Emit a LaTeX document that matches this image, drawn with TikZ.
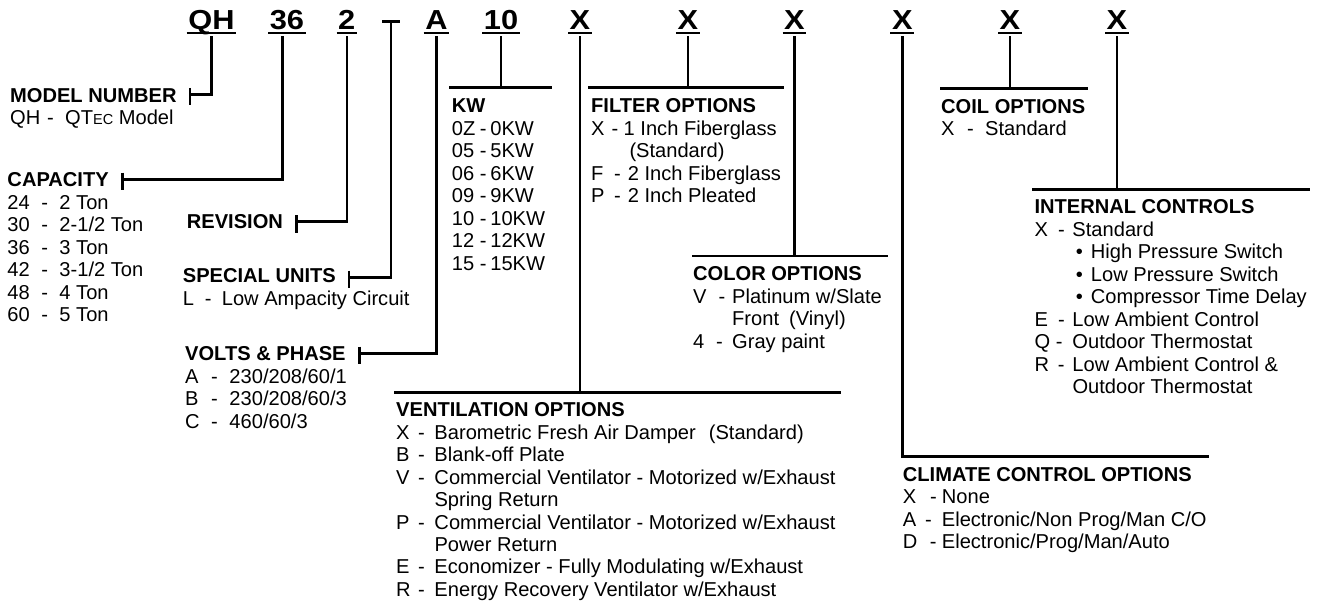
\documentclass[tikz,border=0pt]{standalone}
\usepackage{fontspec}
\setmainfont{Liberation Sans}
\newfontfamily\hdrfont[FakeStretch=1.12]{Liberation Sans}
\usetikzlibrary{calc}
\newcommand\orow[4]{\makebox[#1pt][l]{#3}\makebox[#2pt][l]{-}#4}
\newcommand\cont[2]{\hspace*{#1pt}#2}
\tikzset{
 hdr/.style={font=\hdrfont\bfseries\fontsize{27.5}{27.5}\selectfont, inner sep=0pt, text depth=6.7pt, anchor=base},
 blk/.style={font=\fontsize{20.1}{22.5}\selectfont, inner sep=0pt, anchor=base west},
 conn/.style={line width=2.6pt},
 uline/.style={line width=2pt},
 dashbar/.style={fill=black, inner sep=0pt, minimum width=18pt, minimum height=2.6pt, draw=none}
}
\begin{document}
\begin{tikzpicture}[x=1pt,y=-1pt]
\fill[white] (0,0) rectangle (1318,604);
\useasboundingbox (0,0) rectangle (1318,604);

% ---------- header characters ----------
\node[hdr] (hQH) at (211.5,29.3) {QH};
\node[hdr] (h36) at (287,29.3) {36};
\node[hdr] (h2) at (346.8,29.3) {2};
\node[dashbar] (hDash) at (391,21.7) {};
\node[hdr] (hA) at (436.5,29.3) {A};
\node[hdr] (h10) at (501,29.3) {10};
\node[hdr] (hX1) at (580,29.3) {X};
\node[hdr] (hX2) at (687.8,29.3) {X};
\node[hdr] (hX3) at (794.5,29.3) {X};
\node[hdr] (hX4) at (902.3,29.3) {X};
\node[hdr] (hX5) at (1010,29.3) {X};
\node[hdr] (hX6) at (1117,29.3) {X};
\foreach \n in {hQH,h36,h2,hA,h10,hX1,hX2,hX3,hX4,hX5,hX6}
  \draw[uline] ($(\n.base west)+(-1.5,4)$) -- ($(\n.base east)+(1.5,4)$);

% ---------- text blocks ----------
\node[blk] (model) at (10,102.5) {\begin{tabular}[t]{@{}l@{}}\textbf{MODEL NUMBER}\\
 \orow{37}{18}{QH}{QT{\fontsize{14.5}{14.5}\selectfont EC} Model}\end{tabular}};

\node[blk] (cap) at (7.3,187) {\begin{tabular}[t]{@{}l@{}}\textbf{CAPACITY}\\
 \orow{34}{18}{24}{2 Ton}\\
 \orow{34}{18}{30}{2-1/2 Ton}\\
 \orow{34}{18}{36}{3 Ton}\\
 \orow{34}{18}{42}{3-1/2 Ton}\\
 \orow{34}{18}{48}{4 Ton}\\
 \orow{34}{18}{60}{5 Ton}\end{tabular}};

\node[blk] (rev) at (186.7,228.3) {\textbf{REVISION}};

\node[blk] (spec) at (182.7,283) {\begin{tabular}[t]{@{}l@{}}\textbf{SPECIAL UNITS}\\
 \orow{22}{17}{L}{Low Ampacity Circuit}\end{tabular}};

\node[blk] (volt) at (185,360.5) {\begin{tabular}[t]{@{}l@{}}\textbf{VOLTS \& PHASE}\\
 \orow{26}{18.3}{A}{230/208/60/1}\\
 \orow{26}{18.3}{B}{230/208/60/3}\\
 \orow{26}{18.3}{C}{460/60/3}\end{tabular}};

\node[blk] (kw) at (451.7,113) {\begin{tabular}[t]{@{}l@{}}\textbf{KW}\\
 \orow{28}{10.5}{0Z}{0KW}\\
 \orow{28}{10.5}{05}{5KW}\\
 \orow{28}{10.5}{06}{6KW}\\
 \orow{28}{10.5}{09}{9KW}\\
 \orow{28}{10.5}{10}{10KW}\\
 \orow{28}{10.5}{12}{12KW}\\
 \orow{28}{10.5}{15}{15KW}\end{tabular}};

\node[blk] (filt) at (591,113) {\begin{tabular}[t]{@{}l@{}}\textbf{FILTER OPTIONS}\\
 \orow{20.5}{12}{X}{1 Inch Fiberglass}\\
 \cont{38.3}{(Standard)}\\
 \orow{23}{13.7}{F}{2 Inch Fiberglass}\\
 \orow{23}{13.7}{P}{2 Inch Pleated}\end{tabular}};

\node[blk] (color) at (693,280.5) {\begin{tabular}[t]{@{}l@{}}\textbf{COLOR OPTIONS}\\
 \orow{25.5}{13.5}{V}{Platinum w/Slate}\\
 \cont{39}{Front\hspace{10pt}(Vinyl)}\\
 \orow{22.9}{16.1}{4}{Gray paint}\end{tabular}};

\node[blk] (coil) at (941,113.5) {\begin{tabular}[t]{@{}l@{}}\textbf{COIL OPTIONS}\\
 \orow{26}{18}{X}{Standard}\end{tabular}};

\node[blk] (intc) at (1034.3,214) {\begin{tabular}[t]{@{}l@{}}\textbf{INTERNAL CONTROLS}\\
 \orow{23.5}{14.5}{X}{Standard}\\
 \cont{41.4}{\makebox[15pt][l]{•}High Pressure Switch}\\
 \cont{41.4}{\makebox[15pt][l]{•}Low Pressure Switch}\\
 \cont{41.4}{\makebox[15pt][l]{•}Compressor Time Delay}\\
 \orow{23.5}{14.5}{E}{Low Ambient Control}\\
 \orow{21.5}{16.5}{Q}{Outdoor Thermostat}\\
 \orow{23.5}{14.5}{R}{Low Ambient Control \&}\\
 \cont{38}{Outdoor Thermostat}\end{tabular}};

\node[blk] (vent) at (396,416.5) {\begin{tabular}[t]{@{}l@{}}\textbf{VENTILATION OPTIONS}\\
 \orow{22}{16.3}{X}{Barometric Fresh Air Damper\hspace{13pt}(Standard)}\\
 \orow{22}{16.3}{B}{Blank-off Plate}\\
 \orow{22}{16.3}{V}{Commercial Ventilator - Motorized w/Exhaust}\\
 \cont{38.3}{Spring Return}\\
 \orow{22}{16.3}{P}{Commercial Ventilator - Motorized w/Exhaust}\\
 \cont{38.3}{Power Return}\\
 \orow{22}{16.3}{E}{Economizer - Fully Modulating w/Exhaust}\\
 \orow{22}{16.3}{R}{Energy Recovery Ventilator w/Exhaust}\end{tabular}};

\node[blk] (clim) at (902.7,481) {\begin{tabular}[t]{@{}l@{}}\textbf{CLIMATE CONTROL OPTIONS}\\
 \orow{27.3}{11.7}{X}{None}\\
 \orow{22.3}{16.7}{A}{Electronic/Non Prog/Man C/O}\\
 \orow{27}{12}{D}{Electronic/Prog/Man/Auto}\end{tabular}};

% ---------- connector end points ----------
\coordinate (tQH)   at (190,94.5);
\coordinate (tCap)  at (122.7,179.3);
\coordinate (tRev)  at (296.7,221.7);
\coordinate (tSpec) at (349,277.3);
\coordinate (tVolt) at (359.3,353.3);
\coordinate (kwL) at (449.3,87.7);  \coordinate (kwR) at (551.7,87.7);
\coordinate (fL)  at (588.3,87.7);  \coordinate (fR)  at (784,87.7);
\coordinate (cL)  at (692,256);     \coordinate (cR)  at (888,256);
\coordinate (oL)  at (940,88.3);    \coordinate (oR)  at (1088.3,88.3);
\coordinate (iL)  at (1032.3,189.3);\coordinate (iR)  at (1310,189.3);
\coordinate (vL)  at (394,392.3);   \coordinate (vR)  at (840.7,392.3);
\coordinate (clR) at (1209.3,456.7);

% ---------- connectors ----------
\draw[conn] (hQH.south) |- (tQH);
\draw[conn] ($(h36.south)+(-4.3,0)$) |- (tCap);
\draw[conn] (h2.south) |- (tRev);
\draw[conn] (hDash.center) |- (tSpec);
\draw[conn] (hA.south) |- (tVolt);
\foreach \t in {tQH,tCap,tRev,tSpec,tVolt}
  \draw[conn] ($(\t)+(0,-6.6)$) -- ($(\t)+(0,11)$);

\draw[conn] (kwL) -- (kwR);  \draw[conn] (h10.south) -- (h10.south |- kwL);
\draw[conn] (fL) -- (fR);    \draw[conn] (hX2.south) -- (hX2.south |- fL);
\draw[conn] (cL) -- (cR);    \draw[conn] (hX3.south) -- (hX3.south |- cL);
\draw[conn] (oL) -- (oR);    \draw[conn] (hX5.south) -- (hX5.south |- oL);
\draw[conn] (iL) -- (iR);    \draw[conn] (hX6.south) -- (hX6.south |- iL);
\draw[conn] (vL) -- (vR);    \draw[conn] (hX1.south) -- (hX1.south |- vL);
\draw[conn] (hX4.south) |- (clR);
\end{tikzpicture}
\end{document}
